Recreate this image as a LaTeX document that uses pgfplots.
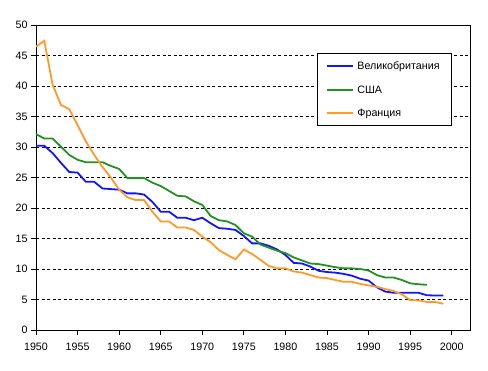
\documentclass[border=0pt]{standalone}
\usepackage{pgfplots}
\pgfplotsset{compat=1.18}
\usepackage{fontspec}
\setmainfont{Liberation Sans}
\definecolor{cuk}{RGB}{20,20,255}
\definecolor{cus}{RGB}{34,146,34}
\definecolor{cfr}{RGB}{255,154,40}
\begin{document}
\begin{tikzpicture}[x=1pt,y=1pt]
\path[use as bounding box] (0,0) rectangle (488,371);
\begin{axis}[
  at={(36pt,41pt)}, anchor=south west,
  width=434pt, height=305pt, scale only axis,
  xmin=1950, xmax=2002.2, ymin=0, ymax=50,
  xtick={1950,1955,...,2000}, ytick={0,5,...,50},
  axis line style={black, line width=0.8pt},
  tick align=outside, major tick length=5pt,
  tick style={black, line width=0.8pt},
  xtick pos=bottom, ytick pos=left,
  ymajorgrids, grid style={black, dash pattern=on 3pt off 2.5pt, line width=0.8pt},
  /pgf/number format/assume math mode=true,
  /pgf/number format/1000 sep={},
  tick label style={font=\fontsize{10.7}{12}\selectfont},
  xticklabel style={yshift=-5pt},
  yticklabel style={xshift=0pt},
  legend style={at={(0.6475,0.908)}, anchor=north west, draw=black, line width=0.8pt, fill=white,
    font=\fontsize{10.7}{12}\selectfont, row sep=12pt, inner xsep=8.5pt, inner ysep=6.5pt,
    nodes={inner xsep=3.5pt, text depth=0pt}},
  legend cell align=left,
  legend image code/.code={\draw[#1, line width=2pt] (0pt,0pt) -- (26pt,0pt);},
  every axis plot/.append style={line width=1.8pt},
]
\addplot[cuk] coordinates {
(1950,30.2)(1951,30.2)(1952,29.0)(1953,27.4)(1954,25.9)(1955,25.8)(1956,24.3)(1957,24.3)(1958,23.2)(1959,23.1)
(1960,23.0)(1961,22.4)(1962,22.4)(1963,22.2)(1964,21.0)(1965,19.4)(1966,19.4)(1967,18.4)(1968,18.4)(1969,18.0)
(1970,18.4)(1971,17.5)(1972,16.7)(1973,16.6)(1974,16.4)(1975,15.4)(1976,14.2)(1977,14.2)(1978,13.8)(1979,13.2)
(1980,12.3)(1981,11.0)(1982,10.9)(1983,10.4)(1984,9.7)(1985,9.5)(1986,9.4)(1987,9.2)(1988,8.9)(1989,8.4)
(1990,8.1)(1991,7.0)(1992,6.3)(1993,6.1)(1994,6.1)(1995,6.1)(1996,6.1)(1997,5.7)(1998,5.65)(1999,5.65)
};
\addlegendentry{Великобритания}
\addplot[cus] coordinates {
(1950,32.1)(1951,31.4)(1952,31.4)(1953,30.05)(1954,28.7)(1955,27.9)(1956,27.5)(1957,27.5)(1958,27.5)(1959,26.9)
(1960,26.4)(1961,24.9)(1962,24.9)(1963,24.9)(1964,24.15)(1965,23.6)(1966,22.8)(1967,22.0)(1968,21.9)(1969,21.1)
(1970,20.5)(1971,18.7)(1972,18.0)(1973,17.8)(1974,17.2)(1975,15.85)(1976,15.3)(1977,14.0)(1978,13.5)(1979,13.0)
(1980,12.6)(1981,11.9)(1982,11.4)(1983,10.9)(1984,10.8)(1985,10.55)(1986,10.3)(1987,10.1)(1988,10.1)(1989,10.0)
(1990,9.75)(1991,9.0)(1992,8.6)(1993,8.6)(1994,8.2)(1995,7.65)(1996,7.5)(1997,7.4)
};
\addlegendentry{США}
\addplot[cfr] coordinates {
(1950,46.45)(1951,47.4)(1952,40.2)(1953,36.9)(1954,36.2)(1955,33.6)(1956,30.9)(1957,28.7)(1958,26.7)(1959,25.0)
(1960,23.0)(1961,21.75)(1962,21.3)(1963,21.3)(1964,19.4)(1965,17.8)(1966,17.8)(1967,16.8)(1968,16.8)(1969,16.4)
(1970,15.3)(1971,14.4)(1972,13.1)(1973,12.3)(1974,11.6)(1975,13.2)(1976,12.45)(1977,11.5)(1978,10.5)(1979,10.1)
(1980,10.1)(1981,9.6)(1982,9.4)(1983,9.0)(1984,8.6)(1985,8.5)(1986,8.2)(1987,7.9)(1988,7.9)(1989,7.55)
(1990,7.3)(1991,7.1)(1992,6.7)(1993,6.4)(1994,5.85)(1995,4.9)(1996,4.85)(1997,4.6)(1998,4.6)(1999,4.3)
};
\addlegendentry{Франция}
\end{axis}
\end{tikzpicture}
\end{document}
